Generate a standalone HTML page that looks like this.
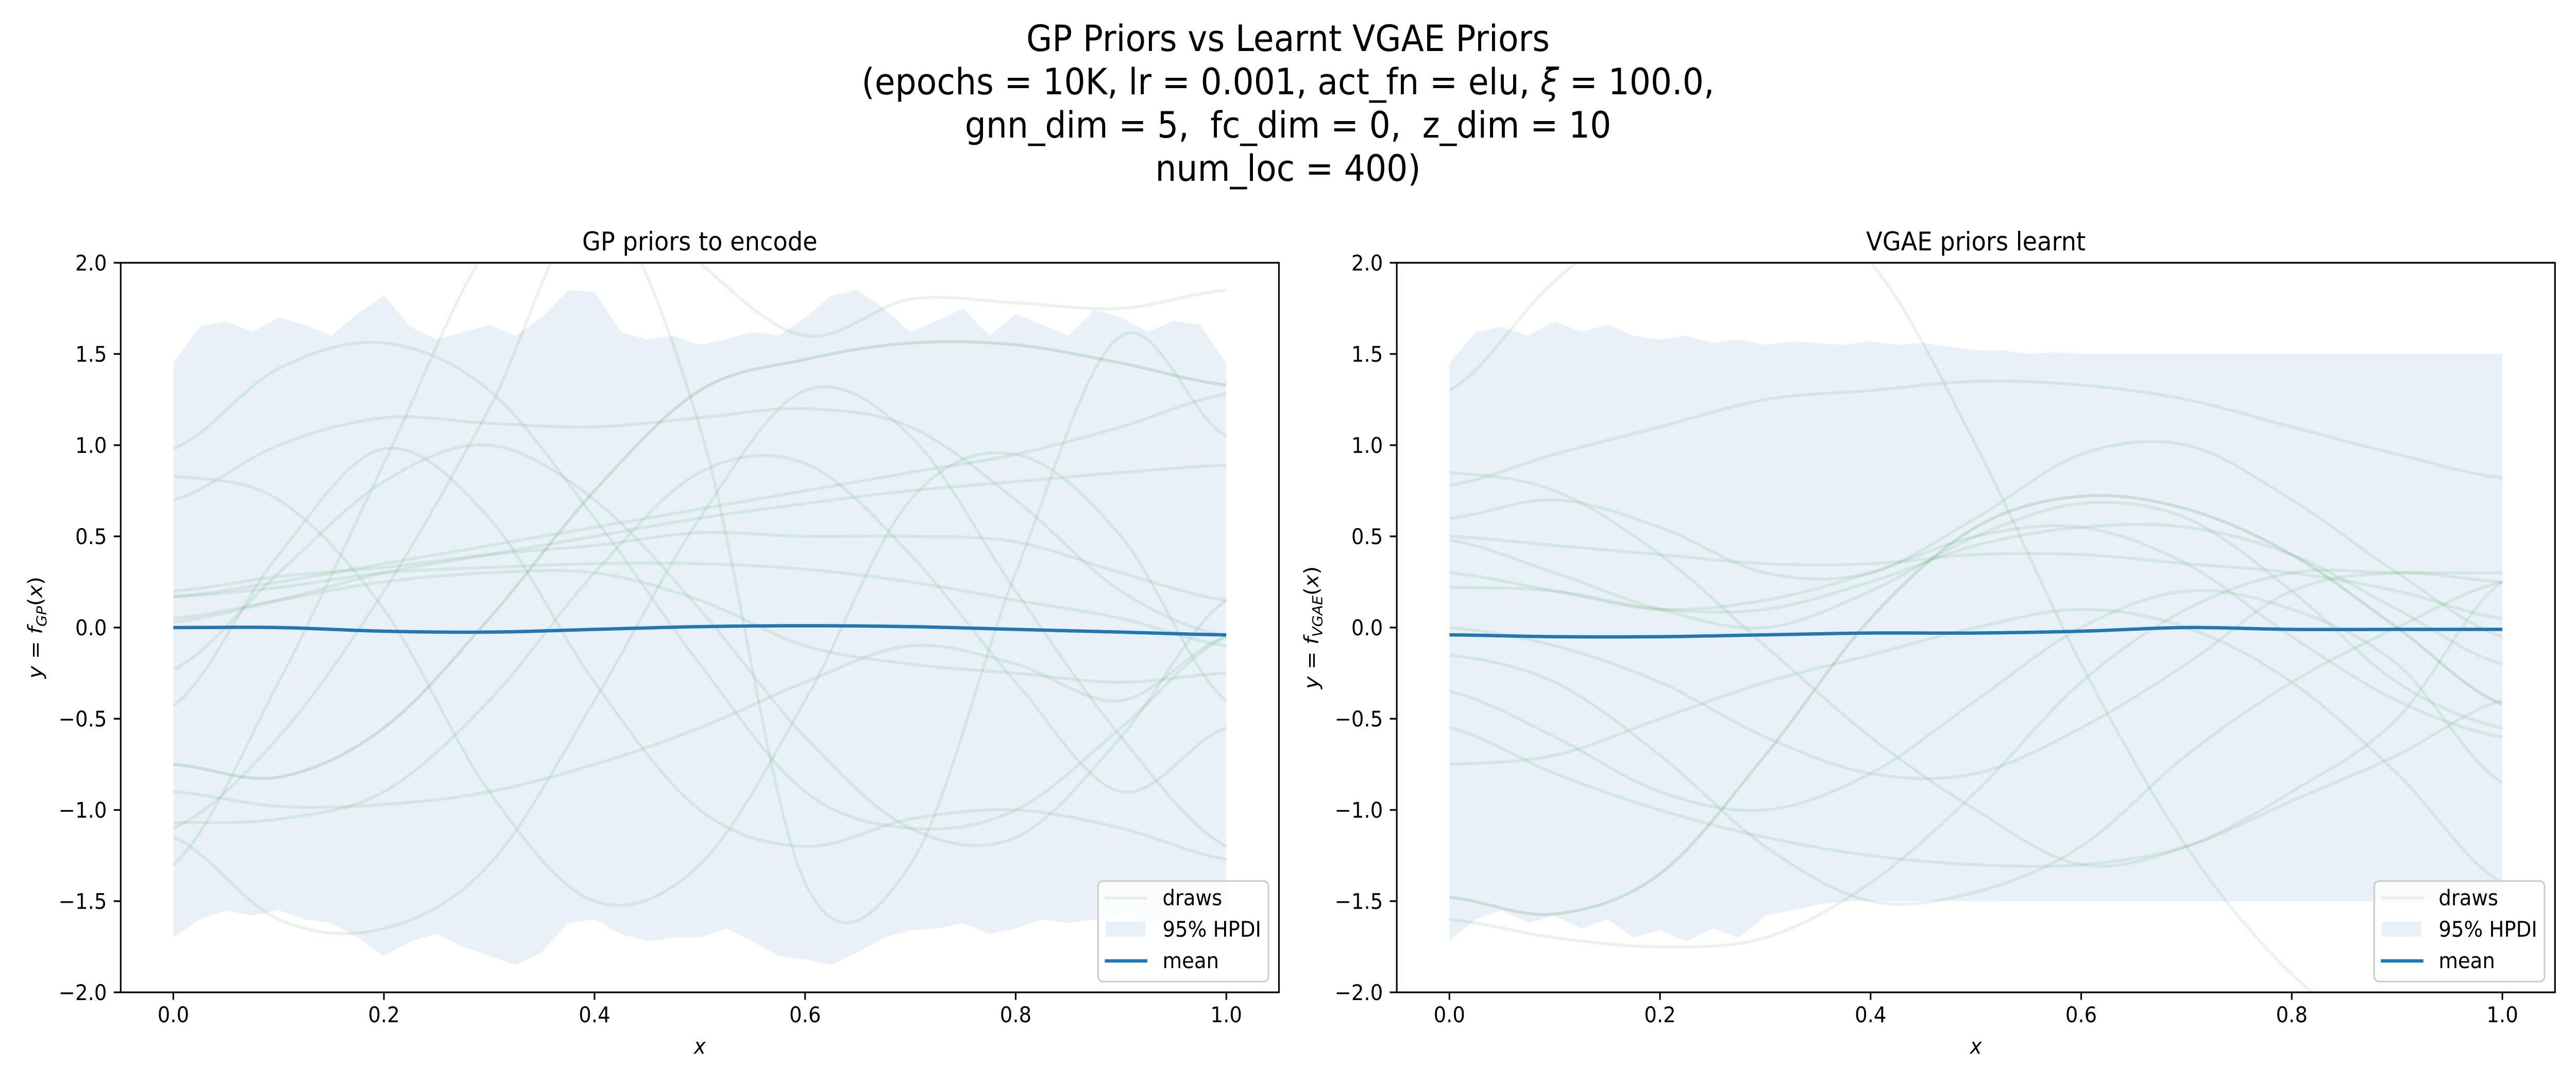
<!DOCTYPE html>
<html><head><meta charset="utf-8">
<style>
html,body{margin:0;padding:0;background:#fff;overflow:hidden;width:100%;height:100%;}
svg{display:block;position:fixed;left:0;top:0;width:100vw;height:100vh;font-family:"DejaVu Sans","Liberation Sans",sans-serif;}
</style></head>
<body>
<svg id="fig" viewBox="0 0 5400 2100" preserveAspectRatio="none" xmlns="http://www.w3.org/2000/svg">
<rect width="5400" height="2100" fill="#fff"/>
<g font-size="70" text-anchor="middle" fill="#000">
<text x="2700" y="99">GP Priors vs Learnt VGAE Priors</text>
<text x="2700" y="183">(epochs = 10K, lr = 0.001, act_fn = elu, <tspan font-style="italic">ξ</tspan> = 100.0,</text>
<text x="2700" y="267" xml:space="preserve">gnn_dim = 5,  fc_dim = 0,  z_dim = 10</text>
<text x="2700" y="351">num_loc = 400)</text>
</g>
<defs>
<clipPath id="clipL"><rect x="253" y="510" width="2428" height="1416"/></clipPath>
<clipPath id="clipR"><rect x="2928" y="510" width="2428" height="1416"/></clipPath>
</defs>
<g id="panelL"></g>
<g id="panelR"></g>
</svg>
<script>
const xKnots = [0,0.1,0.2,0.3,0.4,0.5,0.6,0.7,0.8,0.9,1.0];
const yTicks = [-2.0,-1.5,-1.0,-0.5,0.0,0.5,1.0,1.5,2.0];
const xTicks = [0.0,0.2,0.4,0.6,0.8,1.0];
const legendLabels = ["draws","95% HPDI","mean"];

const drawsL = [
 [-0.75,-0.82,-0.55,0.05,0.75,1.3,1.47,1.56,1.55,1.45,1.33],
 [0.98,1.42,1.56,1.3,0.6,-0.2,-0.9,-1.1,-1.0,-0.55,-0.05],
 [0.83,0.7,0.1,-0.9,-1.5,-1.3,-0.4,0.7,0.95,0.5,-0.4],
 [0.7,1.0,1.15,1.12,1.1,1.15,1.2,1.1,0.7,0.2,-0.05],
 [0.17,0.25,0.35,0.45,0.55,0.65,0.75,0.85,0.95,1.1,1.28],
 [0.03,0.15,0.3,0.4,0.5,0.6,0.68,0.75,0.8,0.85,0.89],
 [0.17,0.22,0.3,0.33,0.35,0.35,0.32,0.25,0.15,0.05,-0.1],
 [-0.23,0.3,0.8,1.0,0.7,0.1,-0.6,-1.1,-1.15,-0.6,0.15],
 [-1.3,-0.3,0.9,2.1,2.6,2.0,1.6,1.8,1.78,1.75,1.85],
 [-1.15,-1.6,-1.65,-1.3,-0.4,0.6,1.3,1.05,0.2,-0.6,-1.2],
 [-1.1,-0.6,0.2,1.2,2.3,1.1,-1.4,-1.3,0.3,1.6,1.05],
 [-1.07,-1.05,-0.9,-0.4,0.3,0.85,0.9,0.4,-0.3,-0.9,-0.55],
 [-0.9,-0.98,-0.97,-0.9,-0.75,-0.55,-0.3,-0.1,-0.2,-0.4,-0.05],
 [0.2,0.28,0.33,0.4,0.45,0.52,0.5,0.5,0.47,0.3,0.15],
 [0.05,0.15,0.25,0.3,0.3,0.15,-0.1,-0.2,-0.25,-0.3,-0.25],
 [-0.43,0.4,0.98,0.6,-0.3,-1.0,-1.2,-1.05,-1.0,-1.1,-1.27]
];
const meanL = [0.0,0.0,-0.02,-0.025,-0.01,0.005,0.01,0.005,-0.01,-0.025,-0.04];
const upperL = [1.45,1.65,1.68,1.62,1.7,1.66,1.6,1.72,1.82,1.65,1.58,1.62,1.66,1.6,1.7,1.85,1.84,1.62,1.58,1.6,1.55,1.58,1.62,1.6,1.7,1.82,1.85,1.75,1.62,1.68,1.75,1.6,1.72,1.66,1.6,1.74,1.7,1.62,1.68,1.66,1.45];
const lowerL = [-1.7,-1.6,-1.55,-1.58,-1.55,-1.6,-1.62,-1.7,-1.8,-1.72,-1.68,-1.75,-1.8,-1.85,-1.78,-1.62,-1.6,-1.68,-1.72,-1.7,-1.7,-1.65,-1.72,-1.8,-1.82,-1.85,-1.78,-1.7,-1.66,-1.65,-1.62,-1.68,-1.65,-1.6,-1.62,-1.6,-1.58,-1.62,-1.6,-1.58,-1.55];

const drawsR = [
 [-1.48,-1.57,-1.35,-0.7,0.05,0.55,0.72,0.65,0.4,0.0,-0.42],
 [0.78,0.95,1.1,1.25,1.3,1.35,1.33,1.25,1.1,0.95,0.82],
 [1.3,1.9,2.3,2.3,2.0,1.0,-0.2,-1.2,-1.9,-2.3,-2.5],
 [0.85,0.75,0.4,-0.1,-0.6,-1.0,-1.3,-1.2,-0.9,-0.5,0.25],
 [0.6,0.7,0.55,0.3,0.3,0.6,0.95,1.0,0.7,0.3,-0.05],
 [0.48,0.3,0.1,0.0,0.2,0.5,0.68,0.6,0.2,-0.3,-0.55],
 [0.22,0.2,0.1,0.1,0.25,0.45,0.55,0.55,0.4,0.1,-0.2],
 [-0.15,-0.3,-0.7,-1.2,-1.5,-1.45,-1.2,-0.7,-0.3,0.0,0.25],
 [-0.55,-0.8,-1.0,-1.15,-1.25,-1.3,-1.3,-1.2,-0.95,-0.7,-0.4],
 [-0.75,-0.7,-0.5,-0.3,-0.15,0.0,0.1,0.0,-0.3,-0.8,-1.4],
 [-1.6,-1.7,-1.75,-1.7,-1.4,-0.9,-0.3,0.1,0.3,0.3,0.3],
 [0.0,-0.1,-0.3,-0.6,-0.8,-0.8,-0.55,-0.2,0.2,0.3,0.25],
 [0.3,0.2,0.1,0.15,0.3,0.5,0.55,0.35,-0.05,-0.4,-0.6],
 [-0.35,-0.6,-0.9,-1.0,-0.8,-0.4,0.0,0.2,0.1,-0.2,-0.85],
 [0.5,0.45,0.4,0.35,0.35,0.4,0.4,0.35,0.3,0.2,0.05]
];
const meanR = [-0.04,-0.05,-0.05,-0.04,-0.03,-0.03,-0.02,0.0,-0.01,-0.01,-0.01];
const upperR = [1.45,1.62,1.65,1.6,1.68,1.62,1.66,1.6,1.58,1.6,1.56,1.58,1.55,1.57,1.56,1.55,1.57,1.55,1.56,1.54,1.52,1.52,1.5,1.51,1.5,1.5,1.5,1.5,1.5,1.5,1.5,1.5,1.5,1.5,1.5,1.5,1.5,1.5,1.5,1.5,1.5];
const lowerR = [-1.72,-1.6,-1.55,-1.62,-1.58,-1.65,-1.6,-1.7,-1.66,-1.72,-1.65,-1.7,-1.58,-1.55,-1.52,-1.5,-1.5,-1.5,-1.5,-1.5,-1.5,-1.5,-1.5,-1.5,-1.5,-1.5,-1.5,-1.5,-1.5,-1.5,-1.5,-1.5,-1.5,-1.5,-1.5,-1.5,-1.5,-1.5,-1.5,-1.5,-1.5];

const NS = "http://www.w3.org/2000/svg";
function mk(tag, attrs, parent){const e=document.createElementNS(NS,tag);for(const k in attrs)e.setAttribute(k,attrs[k]);parent.appendChild(e);return e;}
function interp(vals, t){
  const n=vals.length-1; let s=t*n; let i=Math.min(Math.floor(s),n-1); const u=s-i;
  const p0=vals[Math.max(i-1,0)],p1=vals[i],p2=vals[i+1],p3=vals[Math.min(i+2,n)];
  return 0.5*((2*p1)+(-p0+p2)*u+(2*p0-5*p1+4*p2-p3)*u*u+(-p0+3*p1-3*p2+p3)*u*u*u);
}

function panel(g, cfg){
  const X0=cfg.left, W=2428, Y0=510, H=1416;
  const xs=v=>X0+(v+0.05)/1.1*W;
  const ys=v=>Y0+(2-v)/4*H;
  const clip=mk('g',{'clip-path':'url(#'+cfg.clip+')'},g);
  let d='';
  const nb=cfg.upper.length-1;
  cfg.upper.forEach((v,i)=>{d+=(i?'L':'M')+xs(i/nb).toFixed(1)+','+ys(v).toFixed(1);});
  for(let i=nb;i>=0;i--) d+='L'+xs(i/nb).toFixed(1)+','+ys(cfg.lower[i]).toFixed(1);
  const band=mk('path',{d:d+'Z',fill:'#1f77b4','fill-opacity':0.1},clip);
  
  
  cfg.draws.forEach((vals,k)=>{
    let p='';
    for(let j=0;j<=200;j++){const t=j/200;p+=(j?'L':'M')+xs(t).toFixed(1)+','+ys(interp(vals,t)).toFixed(1);}
    const el=mk('path',{d:p,fill:'none',stroke:'#4a9a5a','stroke-opacity':k===0?0.2:0.12,'stroke-width':6,'stroke-linejoin':'round'},clip);
    
    
  });
  let m='';
  for(let j=0;j<=200;j++){const t=j/200;m+=(j?'L':'M')+xs(t).toFixed(1)+','+ys(interp(cfg.mean,t)).toFixed(1);}
  const ml=mk('path',{d:m,fill:'none',stroke:'#1f77b4','stroke-width':6.5},clip);
  
  
  const fr=mk('rect',{x:X0,y:Y0,width:W,height:H,fill:'none',stroke:'#000','stroke-width':3.3},g);
  
  
  yTicks.forEach(v=>{
    const y=ys(v);
    mk('line',{x1:X0-14.6,x2:X0,y1:y,y2:y,stroke:'#000','stroke-width':3.3},g);
    const t=mk('text',{x:X0-29,y:y+15,'font-size':41.7,'text-anchor':'end'},g);
    t.textContent=(v<0?'\u2212':'')+Math.abs(v).toFixed(1);
    
    
  });
  xTicks.forEach(v=>{
    const x=xs(v);
    mk('line',{x1:x,x2:x,y1:Y0+H,y2:Y0+H+14.6,stroke:'#000','stroke-width':3.3},g);
    const t=mk('text',{x:x,y:1984,'font-size':41.7,'text-anchor':'middle'},g);
    t.textContent=v.toFixed(1);
    
    
  });
  const ti=mk('text',{x:X0+W/2,y:486,'font-size':50,'text-anchor':'middle'},g);
  ti.textContent=cfg.title;
  
  
  const xl=mk('text',{x:X0+W/2,y:2045,'font-size':41.7,'text-anchor':'middle','font-style':'italic'},g);
  xl.textContent='x';
  
  
  const yl=mk('text',{x:0,y:0,'font-size':41.7,'text-anchor':'middle',transform:'translate('+(X0-165)+','+(Y0+H/2)+') rotate(-90)'},g);
  yl.innerHTML='<tspan font-style="italic">y</tspan> = <tspan font-style="italic">f</tspan><tspan font-size="29" dy="9" font-style="italic">'+cfg.sub+'</tspan><tspan dy="-9">(</tspan><tspan font-style="italic">x</tspan>)';
  
  
  const R=X0+W-22, L=R-357, T=1710;
  const lg=mk('g',{},g);
  
  
  mk('rect',{x:L,y:T,width:357,height:195,rx:10,fill:'#fff','fill-opacity':0.8,stroke:'#ccc','stroke-width':3.3},lg);
  mk('line',{x1:L+14,x2:L+103,y1:T+33,y2:T+33,stroke:'#4a9a5a','stroke-opacity':0.12,'stroke-width':6},lg);
  mk('rect',{x:L+16,y:T+79,width:83,height:29,fill:'#1f77b4','fill-opacity':0.1},lg);
  mk('line',{x1:L+14,x2:L+103,y1:T+155,y2:T+155,stroke:'#1f77b4','stroke-width':6.5},lg);
  legendLabels.forEach((s,i)=>{
    const t=mk('text',{x:L+135,y:T+47+i*61,'font-size':41.7},lg);
    t.textContent=s;
    
    
  });
}
panel(document.getElementById('panelL'),{left:253,clip:'clipL',draws:drawsL,mean:meanL,upper:upperL,lower:lowerL,title:'GP priors to encode',sub:'GP'});
panel(document.getElementById('panelR'),{left:2928,clip:'clipR',draws:drawsR,mean:meanR,upper:upperR,lower:lowerR,title:'VGAE priors learnt',sub:'VGAE'});
</script>
</body></html>
